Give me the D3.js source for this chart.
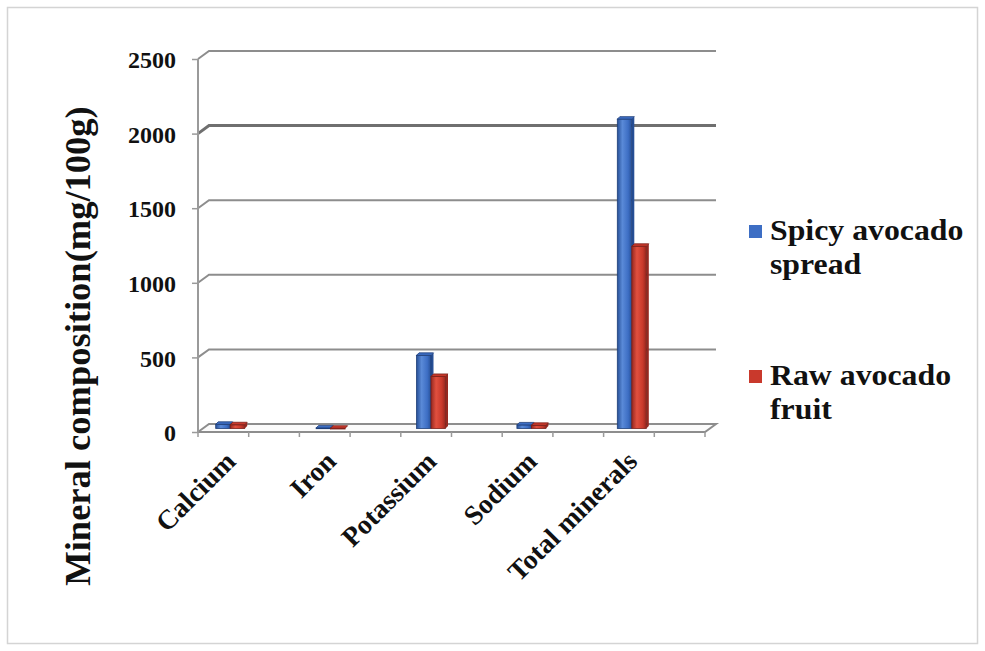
<!DOCTYPE html>
<html>
<head>
<meta charset="utf-8">
<script src="https://cdn.jsdelivr.net/npm/d3@7"></script>
<style>
  html, body { margin: 0; padding: 0; background: #fff; }
  svg text { font-family: "Liberation Serif", "Times New Roman", serif; font-weight: bold; fill: #111; }
</style>
</head>
<body>
<svg id="chart" width="985" height="651"></svg>
<script>
// Mineral composition of spicy avocado spread vs. raw avocado fruit (mg/100g)
const categories = ["Calcium", "Iron", "Potassium", "Sodium", "Total minerals"];
const seriesNames = ["Spicy avocado spread", "Raw avocado fruit"];
const spicySpread = [28, 4, 489, 24, 2068];
const rawFruit = [25, 2, 348, 21, 1218];
const yTicks = [0, 500, 1000, 1500, 2000, 2500];
const legendLines = [["Spicy avocado", "spread"], ["Raw avocado", "fruit"]];

const colors = {
  blue: { light: "#5a8ad8", mid: "#3d6ec4", dark: "#264f96", edge: "#1f3f78" },
  red:  { light: "#e0503f", mid: "#c9392c", dark: "#962820", edge: "#7a1f18" }
};

const svg = d3.select("#chart");
const W = 985, H = 651;

// outer frame
svg.append("rect").attr("x", 7.5).attr("y", 7.5).attr("width", W - 15).attr("height", H - 15)
  .attr("fill", "#fff").attr("stroke", "#d4d4d4").attr("stroke-width", 1.5);

// 3D depth offset of the back wall relative to the front edge
const depth = { dx: 11, dy: -8 };
const front = { left: 198, right: 705, bottom: 432, top: 59 };

// value scales: front edge, back wall, and bars (mid-depth)
const yFront = d3.scaleLinear().domain([0, 2500]).range([front.bottom, front.top]);
const yBack = d3.scaleLinear().domain([0, 2500]).range([front.bottom + depth.dy, front.top + depth.dy]);
const yBar = d3.scaleLinear().domain([0, 2500]).range([front.bottom - 3.5, front.top - 4.5]);

// category placement of the bar clusters
const x = d3.scaleBand().domain(categories).range([180, 682]).paddingInner(0).paddingOuter(0);
const xSeries = d3.scaleBand().domain(seriesNames).range([x.bandwidth() / 2 - 14.5, x.bandwidth() / 2 + 14.5]);

const gridColor = "#8d8d8d";
const g = svg.append("g");

// back-wall gridlines with the wall-side diagonal to the front axis
yTicks.forEach(t => {
  if (t === 0) return;
  const strong = t === 2000;
  g.append("path")
    .attr("d", d3.line()([
      [front.left, yFront(t)],
      [front.left + depth.dx, yBack(t)],
      [front.right + depth.dx, yBack(t)]
    ]))
    .attr("fill", "none")
    .attr("stroke", strong ? "#6f6f6f" : gridColor)
    .attr("stroke-width", strong ? 3 : 2);
});

// floor
g.append("path")
  .attr("d", d3.line()([
    [front.left, front.bottom],
    [front.left + depth.dx, front.bottom + depth.dy],
    [front.right + depth.dx, front.bottom + depth.dy],
    [front.right, front.bottom],
    [front.left, front.bottom]
  ]))
  .attr("fill", "#fbfbfb").attr("stroke", gridColor).attr("stroke-width", 2);

// vertical axis line and ticks
g.append("line").attr("x1", front.left).attr("x2", front.left)
  .attr("y1", yFront(2500)).attr("y2", front.bottom)
  .attr("stroke", "#9a9a9a").attr("stroke-width", 2);

const yAxis = d3.axisLeft(yFront).tickValues(yTicks).tickSize(6).tickPadding(16)
  .tickFormat(d3.format("d"));
const yAxisG = svg.append("g").attr("transform", `translate(${front.left},0)`).call(yAxis);
yAxisG.select(".domain").remove();
yAxisG.selectAll(".tick line").attr("stroke", "#9a9a9a").attr("stroke-width", 1.5);
yAxisG.selectAll(".tick text")
  .attr("font-size", 24).attr("dy", "0.36em")
  .style("font-family", '"Liberation Serif", "Times New Roman", serif')
  .style("font-weight", "bold").attr("fill", "#111");

// horizontal tick marks along the front floor edge
const floorTicks = d3.range(0, 11).map(i => front.left + i * (front.right - front.left) / 10);
g.selectAll(".ftick").data(floorTicks).join("line")
  .attr("x1", d => d).attr("x2", d => d)
  .attr("y1", front.bottom).attr("y2", front.bottom + 5)
  .attr("stroke", "#9a9a9a").attr("stroke-width", 1.5);

// gradient fills give the columns a rounded, shaded look
const defs = svg.append("defs");
[["blue", colors.blue], ["red", colors.red]].forEach(([k, c]) => {
  const gr = defs.append("linearGradient").attr("id", "grad-" + k)
    .attr("x1", "0%").attr("x2", "100%").attr("y1", "0%").attr("y2", "0%");
  gr.append("stop").attr("offset", "0%").attr("stop-color", c.dark);
  gr.append("stop").attr("offset", "35%").attr("stop-color", c.light);
  gr.append("stop").attr("offset", "75%").attr("stop-color", c.mid);
  gr.append("stop").attr("offset", "100%").attr("stop-color", c.dark);
});

const data = categories.map((cat, i) => ({
  cat,
  values: [
    { name: seriesNames[0], v: spicySpread[i], key: "blue" },
    { name: seriesNames[1], v: rawFruit[i], key: "red" }
  ]
}));

const bw = xSeries.bandwidth();
const capDx = 2.5, capDy = -2.5;
const groups = svg.append("g").selectAll("g").data(data).join("g")
  .attr("transform", d => `translate(${x(d.cat)},0)`);

groups.each(function (d) {
  const gg = d3.select(this);
  d.values.forEach(s => {
    const x0 = xSeries(s.name);
    const yTop = yBar(s.v);
    const y0 = yBar(0);
    const c = colors[s.key];
    // right side face
    gg.append("path")
      .attr("d", d3.line()([
        [x0 + bw, y0], [x0 + bw + capDx, y0 + capDy],
        [x0 + bw + capDx, yTop + capDy], [x0 + bw, yTop]
      ]))
      .attr("fill", c.dark);
    // front face
    gg.append("rect")
      .attr("x", x0).attr("y", yTop)
      .attr("width", bw).attr("height", Math.max(0.8, y0 - yTop))
      .attr("fill", `url(#grad-${s.key})`)
      .attr("stroke", c.edge).attr("stroke-width", 0.8);
    // top cap
    gg.append("path")
      .attr("d", d3.line()([
        [x0, yTop], [x0 + capDx, yTop + capDy],
        [x0 + bw + capDx, yTop + capDy], [x0 + bw, yTop]
      ]) + "Z")
      .attr("fill", c.mid).attr("stroke", c.edge).attr("stroke-width", 0.8);
  });
});

// rotated category labels
svg.append("g").selectAll("text").data(categories).join("text")
  .attr("transform", d => `translate(${x(d) + x.bandwidth() / 2 + 7},463) rotate(-45)`)
  .attr("text-anchor", "end")
  .attr("font-size", 27.5)
  .text(d => d);

// value axis title
svg.append("text")
  .attr("transform", "translate(77,346) rotate(-90)")
  .attr("text-anchor", "middle")
  .attr("dominant-baseline", "central")
  .attr("font-size", 36.5)
  .text("Mineral composition(mg/100g)");

// legend
const legend = svg.append("g");
const legendY = [240, 385];
seriesNames.forEach((name, i) => {
  const c = i === 0 ? colors.blue : colors.red;
  legend.append("rect")
    .attr("x", 749).attr("y", legendY[i] - 15).attr("width", 13).attr("height", 13)
    .attr("fill", c.mid);
  legendLines[i].forEach((line, j) => {
    legend.append("text")
      .attr("transform", `translate(770,${legendY[i] + j * 34}) scale(1.06,1)`)
      .attr("font-size", 30)
      .text(line);
  });
});
</script>
</body>
</html>
